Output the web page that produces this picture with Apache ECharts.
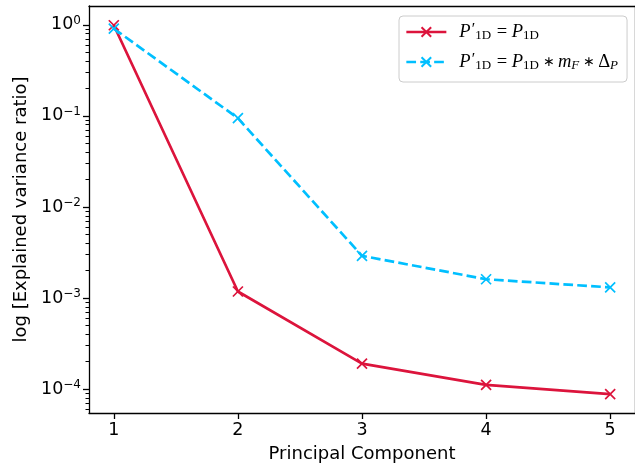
<!DOCTYPE html>
<html>
<head>
<meta charset="utf-8">
<script src="https://cdn.jsdelivr.net/npm/echarts@6/dist/echarts.min.js"></script>
<style>html,body{margin:0;padding:0;background:#fff}#c{width:635px;height:468px}</style>
</head>
<body>
<div id="c"></div>
<script>
// ---- data ----
const components = [1, 2, 3, 4, 5];
const ratioPlain = [0.99, 0.00118, 0.000191, 0.0001115, 0.000088];
const ratioScaled = [0.91, 0.0944, 0.00291, 0.00161, 0.00131];
const xTicks = [1, 2, 3, 4, 5];
const yMajorTicks = [1e-4, 1e-3, 1e-2, 1e-1, 1];
const yMinorTicks = [];
for (let e = -5; e <= 0; e++) for (let m = 2; m <= 9; m++) yMinorTicks.push(m * Math.pow(10, e));
const seriesNames = ['plain', 'scaled'];

const RED = '#DC143C', BLUE = '#00BFFF';
const XPATH = 'path://M0,0L10,10M10,0L0,10';
const font = 'DejaVu Sans';
const FS = 17.5;
const xMin = 0.8, xMax = 5.2;
const yMin = Math.pow(10, -4.262), yMax = Math.pow(10, 0.207);

const sup = s => s.replace('-', '\u2212');

const chart = echarts.init(document.getElementById('c'), null, {renderer: 'canvas'});
const serif = 'Liberation Serif';
const mathRich = {
  P: {fontFamily: serif, fontStyle: 'italic', fontSize: 18.5, color: '#000', lineHeight: 20, verticalAlign: 'middle'},
  t: {fontFamily: serif, fontSize: 18.5, color: '#000', lineHeight: 20, verticalAlign: 'middle'},
  a: {fontFamily: serif, fontSize: 13.5, color: '#000', lineHeight: 20, verticalAlign: 'middle', padding: [0, 3, 0, 3]},
  sup: {fontFamily: serif, fontSize: 16, color: '#000', lineHeight: 12, verticalAlign: 'top', padding: [0, 0, 0, 1]},
  sub: {fontFamily: serif, fontSize: 13, color: '#000', lineHeight: 8, verticalAlign: 'bottom', padding: [0, 1, 0, 0]},
  subi: {fontFamily: serif, fontStyle: 'italic', fontSize: 13, color: '#000', lineHeight: 8, verticalAlign: 'bottom', padding: [0, 1, 0, 0]}
};
const legendText = {
  plain: '{P|P}{sup|\u2032}{sub|1D}{t| = }{P|P}{sub|1D}',
  scaled: '{P|P}{sup|\u2032}{sub|1D}{t| = }{P|P}{sub|1D}{a|\u2217}{P|m}{subi|F}{a|\u2217}{t|\u0394}{subi|P}'
};

const option = {
  animation: false,
  backgroundColor: '#fff',
  grid: {left: 89, right: -1.4, top: 6, bottom: 54.7, containLabel: false},
  legend: {
    orient: 'vertical',
    left: 399, top: 16,
    padding: [6, 8, 10, 6],
    itemGap: 10,
    itemWidth: 40, itemHeight: 12,
    borderColor: '#cccccc', borderWidth: 1, borderRadius: 4,
    backgroundColor: 'rgba(255,255,255,0.8)',
    lineStyle: {width: 2.7},
    data: seriesNames,
    formatter: n => legendText[n],
    textStyle: {rich: mathRich, padding: [0, 0, 0, 8]}
  },
  xAxis: [{
    type: 'value', min: xMin, max: xMax, position: 'bottom',
    name: 'Principal Component', nameLocation: 'middle', nameGap: 32,
    nameTextStyle: {fontFamily: font, fontSize: 18, color: '#000'},
    axisLine: {show: true, onZero: false, lineStyle: {color: '#000', width: 1.3}},
    axisTick: {show: true, inside: false, length: 6, lineStyle: {color: '#000', width: 1.3}, customValues: xTicks},
    axisLabel: {fontFamily: font, fontSize: FS, color: '#000', margin: 8, customValues: xTicks},
    splitLine: {show: false}
  }, {
    type: 'value', min: xMin, max: xMax, position: 'top',
    axisLine: {show: true, onZero: false, lineStyle: {color: '#000', width: 1.3}},
    axisTick: {show: false}, axisLabel: {show: false}, splitLine: {show: false}
  }],
  yAxis: [{
    type: 'log', logBase: 10, min: yMin, max: yMax, position: 'left',
    name: 'log [Explained variance ratio]', nameLocation: 'middle', nameGap: 54,
    nameTextStyle: {fontFamily: font, fontSize: 18, color: '#000'},
    axisLine: {show: true, onZero: false, lineStyle: {color: '#000', width: 1.3}},
    axisTick: {show: true, length: 6, lineStyle: {color: '#000', width: 1.3}, customValues: yMajorTicks},
    axisLabel: {
      customValues: yMajorTicks, margin: 8, color: '#000',
      formatter: v => '{b|10}{s|' + sup(String(Math.round(Math.log10(v)))) + '}',
      rich: {
        b: {fontFamily: font, fontSize: FS, color: '#000', lineHeight: 20, verticalAlign: 'middle'},
        s: {fontFamily: font, fontSize: 12, color: '#000', lineHeight: 10, verticalAlign: 'top'}
      }
    },
    splitLine: {show: false}
  }, {
    type: 'log', logBase: 10, min: yMin, max: yMax, position: 'left',
    axisLine: {show: false},
    axisTick: {show: true, length: 3.5, lineStyle: {color: '#000', width: 1.0}, customValues: yMinorTicks},
    axisLabel: {show: false}, splitLine: {show: false}
  }, {
    type: 'log', logBase: 10, min: yMin, max: yMax, position: 'right',
    axisLine: {show: true, onZero: false, lineStyle: {color: '#000', width: 1.3}},
    axisTick: {show: false}, axisLabel: {show: false}, splitLine: {show: false}
  }],
  series: [{
    name: seriesNames[0], type: 'line',
    data: components.map((c, i) => [c, ratioPlain[i]]),
    symbol: XPATH, symbolSize: 10, showSymbol: true,
    lineStyle: {color: RED, width: 2.7, type: 'solid'},
    itemStyle: {color: RED, borderColor: RED, borderWidth: 1.7},
    emphasis: {disabled: true}
  }, {
    name: seriesNames[1], type: 'line',
    data: components.map((c, i) => [c, ratioScaled[i]]),
    symbol: XPATH, symbolSize: 10, showSymbol: true,
    lineStyle: {color: BLUE, width: 2.7, type: [9.7, 4.2]},
    itemStyle: {color: BLUE, borderColor: BLUE, borderWidth: 1.7},
    emphasis: {disabled: true}
  }]
};
chart.setOption(option);
</script>
</body>
</html>
